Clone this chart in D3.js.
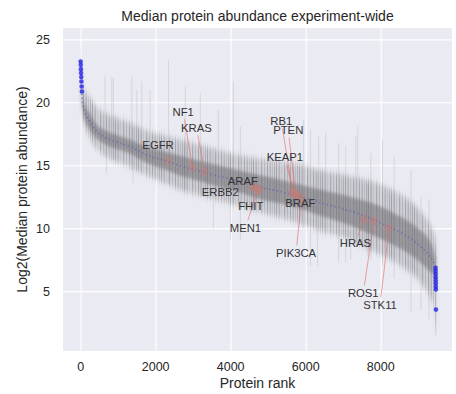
<!DOCTYPE html>
<html>
<head>
<meta charset="utf-8">
<script src="https://cdn.jsdelivr.net/npm/d3@7"></script>
<style>
  body { margin: 0; background: #fff; }
  text { font-family: "Liberation Sans", Arial, sans-serif; fill: #262626; }
</style>
</head>
<body>
<div id="chart"></div>
<script>
const sampleRank = [0, 27, 61, 142, 249, 409, 650, 864, 1318, 1746, 2200, 2655, 3190, 3725, 4259, 4794,
  5329, 5864, 6399, 6933, 7468, 7869, 8270, 8671, 8938, 9152, 9313, 9420, 9470]
const medianValue = [23.24, 20.83, 19.80, 19.01, 18.45, 17.74, 17.22, 16.94, 16.47, 15.83, 15.40, 14.96, 14.52,
  14.09, 13.69, 13.25, 12.90, 12.50, 12.02, 11.59, 11.07, 10.60, 10.04, 9.40, 8.85, 8.29, 7.74, 7.18, 6.71]
const coreLow = [22.92, 20.35, 19.24, 18.38, 17.82, 17.18, 16.66, 16.38, 15.91, 15.20, 14.69, 14.17, 13.73,
  13.22, 12.82, 12.30, 11.95, 11.55, 10.99, 10.48, 9.88, 9.33, 8.77, 8.13, 7.58, 7.02, 6.55, 6.23, 5.2]
const coreHigh = [23.56, 21.31, 20.36, 19.64, 19.08, 18.30, 17.78, 17.50, 17.03, 16.46, 16.11, 15.75, 15.31,
  14.96, 14.56, 14.20, 13.85, 13.45, 13.05, 12.70, 12.26, 11.87, 11.31, 10.67, 10.12, 9.56, 8.93, 8.13, 7.5]
const outerLow = [22.76, 20.04, 18.85, 17.82, 17.18, 16.39, 15.79, 15.43, 14.88, 14.24, 13.65, 13.06, 12.62,
  12.19, 11.71, 11.27, 10.84, 10.36, 9.80, 9.37, 8.69, 8.06, 7.50, 6.70, 6.15, 5.27, 4.57, 3.69, 1.6]
const outerHigh = [24.03, 22.02, 21.23, 20.76, 20.35, 19.64, 19.12, 18.84, 18.37, 17.73, 17.38, 17.02, 16.58,
  16.15, 15.75, 15.47, 15.28, 15.04, 14.56, 14.29, 13.93, 13.62, 13.06, 12.42, 11.71, 10.99, 10.28, 9.56, 9.0]

// single long error bars that stick out of the band
const spikeRank = [650, 684, 829, 872, 1364, 1398, 1497, 1631, 1853, 2342, 2789, 3190, 3537, 3671, 3992, 4072,
  4259, 5944, 6131, 6318, 6345, 6532, 6880, 7067, 7201, 7335, 7388, 7655, 7735, 8048, 8358, 8805, 9072, 9286, 9470]
const spikeLow = [15.6, 14.38, 15.3, 15.4, 14.6, 13.59, 14.5, 14.3, 14.0, 13.5, 13.0, 12.5, 9.9, 12.0, 9.09, 11.9,
  9.1, 10.0, 7.0, 7.0, 9.8, 9.5, 7.26, 7.3, 7.5, 8.5, 8.5, 7.76, 7.5, 7.0, 6.0, 3.3, 3.5, 2.8, 1.5]
const spikeHigh = [22.05, 18.5, 22.0, 21.92, 22.05, 18.0, 21.0, 21.65, 20.99, 23.37, 21.25, 20.73, 16.5, 19.4, 16.0,
  21.65, 18.08, 18.6, 17.82, 14.5, 17.3, 17.56, 16.76, 16.49, 14.0, 17.29, 18.08, 13.5, 15.97, 17.02, 15.7, 14.64,
  12.5, 12.3, 8.5]

// extreme proteins in blue
const headRank = [0, 4, 8, 12, 17, 22, 28, 34]
const headValue = [23.24, 22.98, 22.63, 22.32, 22.0, 21.65, 21.25, 20.86]
const tailRank = [9462, 9463, 9464, 9465, 9466, 9467, 9468, 9470, 9472]
const tailValue = [6.84, 6.6, 6.35, 6.1, 5.85, 5.6, 5.35, 5.12, 3.53]

// highlighted genes
const genes = ["EGFR", "NF1", "KRAS", "ERBB2", "ARAF", "FHIT", "MEN1", "RB1", "KEAP1", "PTEN", "BRAF", "PIK3CA",
  "HRAS", "ROS1", "STK11"]
const geneRank = [2321, 2984, 3305, 4580, 4687, 4740, 4713, 5655, 5680, 5735, 5783, 5890, 7559, 7823, 8224]
const geneValue = [15.36, 14.78, 14.46, 13.29, 13.21, 13.05, 12.98, 12.82, 12.74, 12.66, 12.58, 12.42, 10.73, 10.62, 10.02]
const labelRank = [2064, 2735, 3088, 3725, 4326, 4535, 4393, 5350, 5444, 5535, 5856, 5743, 7326, 7535, 7981]
const labelValue = [16.59, 19.25, 17.98, 12.88, 13.79, 11.73, 10.02, 18.51, 15.62, 17.78, 12.0, 8.03, 8.83, 4.86, 3.93]

const xTicks = [0, 2000, 4000, 6000, 8000]
const yTicks = [5, 10, 15, 20, 25]

const width = 456, height = 394
const plot = { left: 63, right: 452, top: 28, bottom: 351 }

const svg = d3.select("#chart").append("svg")
  .attr("width", width)
  .attr("height", height)

const defs = svg.append("defs")
defs.append("filter").attr("id", "soft").attr("x", "-5%").attr("y", "-10%").attr("width", "110%").attr("height", "120%")
  .append("feGaussianBlur").attr("stdDeviation", 2.2)
defs.append("filter").attr("id", "soft2").attr("x", "-5%").attr("y", "-10%").attr("width", "110%").attr("height", "120%")
  .append("feGaussianBlur").attr("stdDeviation", 1.4)
defs.append("filter").attr("id", "vblur").attr("x", "-5%").attr("y", "-15%").attr("width", "110%").attr("height", "130%")
  .append("feGaussianBlur").attr("stdDeviation", "0 4")
defs.append("clipPath").attr("id", "plotclip").append("rect")
  .attr("x", plot.left).attr("y", plot.top)
  .attr("width", plot.right - plot.left).attr("height", plot.bottom - plot.top)

// streak texture for the error bar forest
const streaks = defs.append("pattern").attr("id", "streaks")
  .attr("patternUnits", "userSpaceOnUse").attr("width", 23).attr("height", 4)
const streakX = [0, 2, 3, 5, 8, 9, 11, 14, 16, 17, 19, 21]
const streakA = [0.55, 0.2, 0.35, 0.15, 0.45, 0.1, 0.3, 0.5, 0.15, 0.35, 0.25, 0.4]
streaks.selectAll("rect").data(streakX).enter().append("rect")
  .attr("x", d => d).attr("y", 0).attr("width", 1).attr("height", 4)
  .attr("fill", "#6c6c72").attr("fill-opacity", (d, i) => streakA[i])

const x = d3.scaleLinear().domain([-470, 9900]).range([plot.left, plot.right])
const y = d3.scaleLinear().domain([0.24, 25.9]).range([plot.bottom, plot.top])

svg.append("rect")
  .attr("x", plot.left).attr("y", plot.top)
  .attr("width", plot.right - plot.left).attr("height", plot.bottom - plot.top)
  .attr("fill", "#eaeaf2")

// grid
svg.append("g")
  .attr("transform", "translate(0," + plot.bottom + ")")
  .call(d3.axisBottom(x).tickValues(xTicks).tickSize(-(plot.bottom - plot.top)).tickFormat(""))
  .call(g => g.select(".domain").remove())
  .call(g => g.selectAll("line").attr("stroke", "#fff").attr("stroke-width", 1.1))

svg.append("g")
  .attr("transform", "translate(" + plot.left + ",0)")
  .call(d3.axisLeft(y).tickValues(yTicks).tickSize(-(plot.right - plot.left)).tickFormat(""))
  .call(g => g.select(".domain").remove())
  .call(g => g.selectAll("line").attr("stroke", "#fff").attr("stroke-width", 1.1))

const band = sampleRank.map((r, i) => ({
  r: r, m: medianValue[i], cl: coreLow[i], ch: coreHigh[i], ol: outerLow[i], oh: outerHigh[i]
}))

const layer = svg.append("g").attr("clip-path", "url(#plotclip)")

const outerArea = d3.area()
  .x(d => x(d.r)).y0(d => y(d.ol)).y1(d => y(d.oh))
  .curve(d3.curveMonotoneX)
const coreArea = d3.area()
  .x(d => x(d.r)).y0(d => y(d.cl)).y1(d => y(d.ch))
  .curve(d3.curveMonotoneX)

layer.append("path")
  .datum(band)
  .attr("d", outerArea)
  .attr("fill", "#86868c")
  .attr("opacity", 0.27)
  .attr("filter", "url(#soft)")

layer.append("path")
  .datum(band)
  .attr("d", outerArea)
  .attr("fill", "url(#streaks)")
  .attr("opacity", 0.85)
  .attr("filter", "url(#vblur)")

// long error bars
layer.selectAll(".spike")
  .data(spikeRank.map((r, i) => ({ r: r, lo: spikeLow[i], hi: spikeHigh[i] })))
  .enter().append("line")
  .attr("class", "spike")
  .attr("x1", d => x(d.r)).attr("x2", d => x(d.r))
  .attr("y1", d => y(d.lo)).attr("y2", d => y(d.hi))
  .attr("stroke", "#a4a4aa")
  .attr("stroke-width", 1)
  .attr("opacity", 0.3)

layer.append("path")
  .datum(band)
  .attr("d", coreArea)
  .attr("fill", "#6a6a6e")
  .attr("opacity", 0.52)
  .attr("filter", "url(#soft2)")

// median curve
const line = d3.line()
  .x(d => x(d.r)).y(d => y(d.m))
  .curve(d3.curveMonotoneX)

layer.append("path")
  .datum(band)
  .attr("d", line)
  .attr("fill", "none")
  .attr("stroke", "#5c5cb8")
  .attr("stroke-width", 1.8)
  .attr("stroke-dasharray", "1.5,2.5")
  .attr("opacity", 0.55)

// blue extremes
const blue = headRank.map((r, i) => ({ r: r, v: headValue[i] }))
  .concat(tailRank.map((r, i) => ({ r: r, v: tailValue[i] })))
layer.selectAll(".extreme")
  .data(blue)
  .enter().append("circle")
  .attr("class", "extreme")
  .attr("cx", d => x(d.r)).attr("cy", d => y(d.v))
  .attr("r", 2.3)
  .attr("fill", "#2424e8")
  .attr("opacity", 0.8)

// genes
const geneData = genes.map((g, i) => ({
  name: g, r: geneRank[i], v: geneValue[i], lr: labelRank[i], lv: labelValue[i]
}))

const lines = svg.append("g")
const marks = svg.append("g")
const labels = svg.append("g")

marks.selectAll("circle")
  .data(geneData)
  .enter().append("circle")
  .attr("cx", d => x(d.r)).attr("cy", d => y(d.v))
  .attr("r", 4.5)
  .attr("fill", "#c87a76")
  .attr("opacity", 0.35)

labels.selectAll("text")
  .data(geneData)
  .enter().append("text")
  .attr("x", d => x(d.lr)).attr("y", d => y(d.lv))
  .attr("text-anchor", "middle")
  .attr("dy", "0.36em")
  .style("font-size", "11.3px")
  .style("fill", "#333")
  .text(d => d.name)
  .each(function (d) {
    const b = this.getBBox()
    const cx = x(d.lr), cy = y(d.lv)
    const px = x(d.r), py = y(d.v)
    const pad = 1.5
    const dx = px - cx, dy = py - cy
    let t = 1
    if (dx !== 0) t = Math.min(t, ((dx > 0 ? b.x + b.width + pad : b.x - pad) - cx) / dx)
    if (dy !== 0) t = Math.min(t, ((dy > 0 ? b.y + b.height + pad : b.y - pad) - cy) / dy)
    const sx = cx + dx * t, sy = cy + dy * t
    if (Math.hypot(px - sx, py - sy) > 13) {
      lines.append("line")
        .attr("x1", sx).attr("y1", sy)
        .attr("x2", px).attr("y2", py)
        .attr("stroke", "#e06a6a")
        .attr("stroke-width", 0.8)
        .attr("opacity", 0.75)
    }
  })

// axis labels
svg.append("g")
  .selectAll("text")
  .data(xTicks)
  .enter().append("text")
  .attr("x", d => x(d)).attr("y", plot.bottom + 20)
  .attr("text-anchor", "middle")
  .style("font-size", "12.5px")
  .text(d => d)

svg.append("g")
  .selectAll("text")
  .data(yTicks)
  .enter().append("text")
  .attr("x", plot.left - 13).attr("y", d => y(d))
  .attr("dy", "0.36em")
  .attr("text-anchor", "end")
  .style("font-size", "12.5px")
  .text(d => d)

svg.append("text")
  .attr("x", (plot.left + plot.right) / 2).attr("y", 388)
  .attr("text-anchor", "middle")
  .style("font-size", "14px")
  .text("Protein rank")

svg.append("text")
  .attr("transform", "translate(27," + (plot.top + plot.bottom) / 2 + ") rotate(-90)")
  .attr("text-anchor", "middle")
  .style("font-size", "14px")
  .text("Log2(Median protein abundance)")

svg.append("text")
  .attr("x", (plot.left + plot.right) / 2).attr("y", 20.5)
  .attr("text-anchor", "middle")
  .style("font-size", "14px")
  .text("Median protein abundance experiment-wide")
</script>
</body>
</html>
